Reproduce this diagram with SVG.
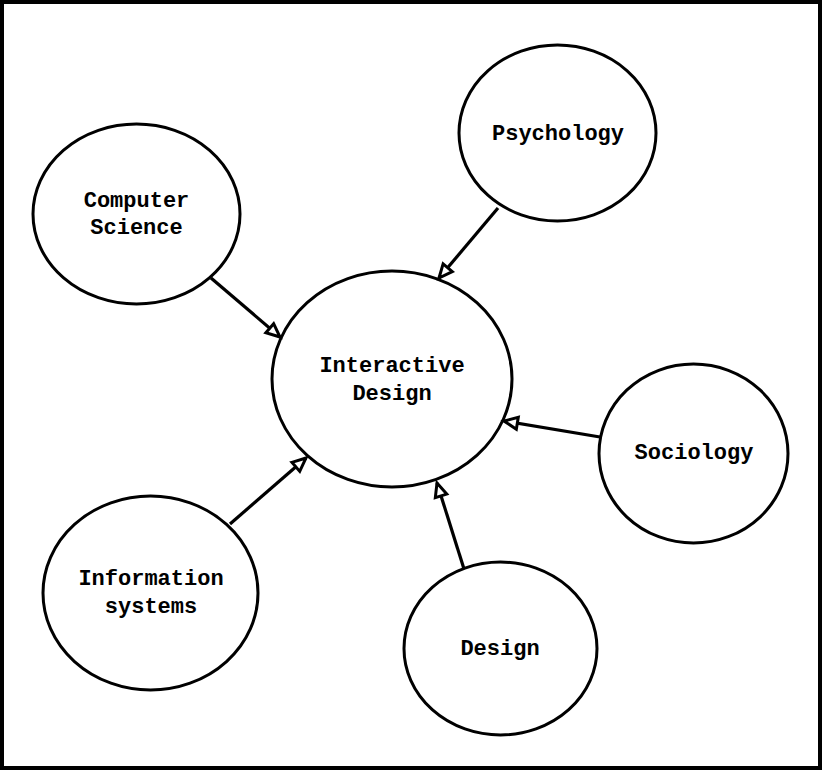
<svg xmlns="http://www.w3.org/2000/svg" width="824" height="771" viewBox="0 0 824 771">
<style>
.node ellipse{fill:#fff;stroke:#000;stroke-width:3}
.node text{font-family:"Liberation Mono","Courier New",monospace;font-weight:bold;font-size:22px;fill:#000;text-anchor:middle}
.edges line{stroke:#000;stroke-width:3.2;marker-end:url(#arr)}
</style>
<defs>
<marker id="arr" markerUnits="userSpaceOnUse" markerWidth="20" markerHeight="20" refX="15" refY="7" orient="auto" overflow="visible">
<path d="M1.5,1 L15,7 L1.5,13 Z" fill="#fff" stroke="#000" stroke-width="3" stroke-linejoin="miter"/>
</marker>
</defs>
<rect x="2" y="2" width="818" height="766" fill="#fff" stroke="#000" stroke-width="4"/>
<g id="n-interactive" class="node">
<ellipse cx="392" cy="379" rx="120" ry="108"/>
<text x="392" y="372">Interactive</text>
<text x="392" y="400">Design</text>
</g>
<g id="n-cs" class="node">
<ellipse cx="136.5" cy="214" rx="103.5" ry="90"/>
<text x="136.5" y="207">Computer</text>
<text x="136.5" y="234">Science</text>
</g>
<g id="n-psych" class="node">
<ellipse cx="557.5" cy="133" rx="98.5" ry="88"/>
<text x="558" y="140">Psychology</text>
</g>
<g id="n-soc" class="node">
<ellipse cx="693.5" cy="453.5" rx="94.5" ry="89.5"/>
<text x="694" y="459">Sociology</text>
</g>
<g id="n-info" class="node">
<ellipse cx="150.5" cy="593" rx="107.5" ry="97"/>
<text x="151" y="585">Information</text>
<text x="151" y="613">systems</text>
</g>
<g id="n-design" class="node">
<ellipse cx="500.5" cy="648.5" rx="96.5" ry="86.5"/>
<text x="500" y="655">Design</text>
</g>
<g id="connectors" class="edges">
<line x1="211" y1="278" x2="280" y2="337"/>
<line x1="498" y1="208" x2="439" y2="278"/>
<line x1="600" y1="437" x2="504" y2="421"/>
<line x1="230" y1="524" x2="306" y2="458"/>
<line x1="464" y1="569" x2="437" y2="483"/>
</g>
</svg>
